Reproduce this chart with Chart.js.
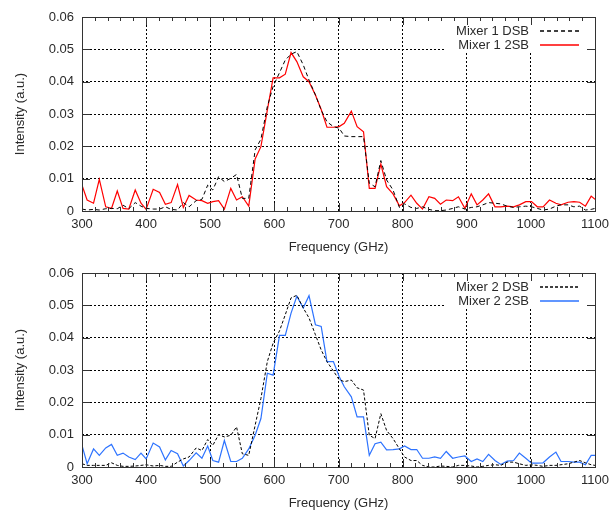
<!DOCTYPE html>
<html>
<head>
<meta charset="utf-8">
<script src="https://cdn.jsdelivr.net/npm/chart.js@4"></script>
<style>
  body { margin: 0; background: #fff; }
  .box { position: absolute; left: 0; width: 615px; height: 256px; }
</style>
</head>
<body>
<div class="box" style="top:0"><canvas id="top" width="615" height="256"></canvas></div>
<div class="box" style="top:256px"><canvas id="bottom" width="615" height="256"></canvas></div>
<script>
// sample frequencies (GHz), shared by all four traces
var freq = [300, 308, 318, 327, 337, 346, 355, 364, 373, 383, 392, 400, 411, 421, 430, 439, 449, 458, 467, 478,
  487, 496, 504, 513, 522, 532, 541, 550, 560, 570, 579, 589, 598, 608, 617, 626, 635, 645, 654, 664,
  673, 682, 692, 701, 709, 720, 729, 739, 748, 757, 766, 775, 785, 795, 803, 813, 822, 831, 841, 850,
  859, 868, 878, 887, 897, 907, 916, 925, 934, 944, 953, 963, 973, 982, 992, 1001, 1010, 1019, 1029, 1039,
  1047, 1058, 1067, 1076, 1085, 1094, 1100];

var mixer1Dsb = [0.0006, 0.0003, 0.0005, 0.0003, 0.0007, 0.0008, 0.0007, 0.0018, 0.0007, 0.0026, 0.0015, 0.0008, 0.0006, 0.0006, 0.0013, 0.0005, 0.0003, 0.0026, 0.0013, 0.0032,
  0.0036, 0.0080, 0.0065, 0.0106, 0.0091, 0.0101, 0.0113, 0.0039, 0.0039, 0.0189, 0.0222, 0.0323, 0.0385, 0.0428, 0.0467, 0.0485, 0.0493, 0.0452, 0.0405, 0.0359,
  0.0312, 0.0276, 0.0261, 0.0256, 0.0232, 0.0230, 0.0230, 0.0230, 0.0086, 0.0075, 0.0156, 0.0096, 0.0065, 0.0011, 0.0022, 0.0011, 0.0008, 0.0013, 0.0005, 0.0001,
  0.0001, 0.0003, 0.0008, 0.0013, 0.0006, 0.0011, 0.0013, 0.0019, 0.0026, 0.0024, 0.0022, 0.0015, 0.0011, 0.0013, 0.0015, 0.0013, 0.0008, 0.0003, 0.0006, 0.0015,
  0.0019, 0.0019, 0.0013, 0.0015, 0.0003, 0.0005, 0.0008];

var mixer1Ssb = [0.0080, 0.0034, 0.0024, 0.0098, 0.0013, 0.0008, 0.0062, 0.0008, 0.0006, 0.0065, 0.0024, 0.0005, 0.0067, 0.0057, 0.0021, 0.0026, 0.0082, 0.0011, 0.0048, 0.0034,
  0.0032, 0.0024, 0.0029, 0.0032, 0.0006, 0.0070, 0.0034, 0.0044, 0.0015, 0.0161, 0.0199, 0.0312, 0.0412, 0.0412, 0.0423, 0.0490, 0.0462, 0.0415, 0.0400, 0.0359,
  0.0314, 0.0259, 0.0259, 0.0261, 0.0271, 0.0309, 0.0261, 0.0245, 0.0070, 0.0070, 0.0145, 0.0075, 0.0053, 0.0016, 0.0026, 0.0049, 0.0024, 0.0006, 0.0044, 0.0039,
  0.0021, 0.0034, 0.0032, 0.0044, 0.0008, 0.0053, 0.0019, 0.0034, 0.0053, 0.0013, 0.0013, 0.0015, 0.0013, 0.0019, 0.0029, 0.0029, 0.0013, 0.0013, 0.0034, 0.0024,
  0.0019, 0.0027, 0.0029, 0.0027, 0.0015, 0.0046, 0.0036];

var mixer2Dsb = [0.0010, 0.0005, 0.0005, 0.0005, 0.0005, 0.0013, 0.0005, 0.0002, 0.0002, 0.0003, 0.0005, 0.0007, 0.0003, 0.0005, 0.0002, 0.0002, 0.0015, 0.0025, 0.0031, 0.0059,
  0.0051, 0.0085, 0.0067, 0.0100, 0.0093, 0.0098, 0.0124, 0.0041, 0.0036, 0.0129, 0.0212, 0.0326, 0.0383, 0.0421, 0.0471, 0.0523, 0.0531, 0.0492, 0.0461, 0.0409,
  0.0362, 0.0326, 0.0297, 0.0270, 0.0264, 0.0269, 0.0245, 0.0238, 0.0098, 0.0088, 0.0165, 0.0113, 0.0088, 0.0056, 0.0031, 0.0020, 0.0020, 0.0005, 0.0000, 0.0000,
  0.0003, 0.0002, 0.0000, 0.0005, 0.0005, 0.0003, 0.0000, 0.0002, 0.0005, 0.0007, 0.0005, 0.0015, 0.0015, 0.0010, 0.0005, 0.0007, 0.0005, 0.0002, 0.0005, 0.0005,
  0.0007, 0.0010, 0.0015, 0.0020, 0.0013, 0.0007, 0.0005];

var mixer2Ssb = [0.0067, 0.0010, 0.0056, 0.0036, 0.0059, 0.0070, 0.0036, 0.0043, 0.0031, 0.0023, 0.0043, 0.0025, 0.0074, 0.0062, 0.0022, 0.0051, 0.0041, 0.0003, 0.0020, 0.0044,
  0.0027, 0.0065, 0.0020, 0.0015, 0.0082, 0.0017, 0.0017, 0.0027, 0.0056, 0.0098, 0.0150, 0.0290, 0.0284, 0.0407, 0.0407, 0.0476, 0.0528, 0.0492, 0.0530, 0.0440,
  0.0435, 0.0326, 0.0326, 0.0280, 0.0248, 0.0217, 0.0155, 0.0155, 0.0036, 0.0072, 0.0077, 0.0053, 0.0054, 0.0056, 0.0065, 0.0054, 0.0054, 0.0027, 0.0027, 0.0031,
  0.0027, 0.0048, 0.0027, 0.0031, 0.0034, 0.0017, 0.0025, 0.0017, 0.0039, 0.0020, 0.0008, 0.0018, 0.0020, 0.0043, 0.0027, 0.0012, 0.0012, 0.0013, 0.0031, 0.0046,
  0.0017, 0.0017, 0.0015, 0.0015, 0.0007, 0.0036, 0.0036];

var xRange = [300, 1100];
var yRange = [0, 0.06];

var FONT = { family: "'Liberation Sans', Arial, sans-serif", size: 13 };
var TEXT = '#2a2a2a';

function pts(vals) {
  return freq.map(function(f, i) { return { x: f, y: vals[i] }; });
}

// frame, inward ticks and a gnuplot-like key in the top right corner
var gnuFrame = {
  id: 'gnuFrame',
  afterDatasetsDraw: function(chart) {
    var ctx = chart.ctx, a = chart.chartArea;
    var xs = chart.scales.x, ys = chart.scales.y;
    var px = function(v) { return Math.round(v) + 0.5; };
    ctx.save();
    // key background hides the grid only
    ctx.fillStyle = '#fff';
    ctx.fillRect(a.right - 150, a.top + 1, 142, 34);

    ctx.strokeStyle = '#333';
    ctx.lineWidth = 1;
    ctx.setLineDash([]);
    ctx.beginPath();
    for (var f = xRange[0]; f <= xRange[1]; f += 20) {
      var x = px(xs.getPixelForValue(f));
      var len = (f % 100 === 0) ? 8 : 4;
      ctx.moveTo(x, a.bottom); ctx.lineTo(x, a.bottom - len);
      ctx.moveTo(x, a.top); ctx.lineTo(x, a.top + len);
    }
    for (var k = 0; k <= 6; k++) {
      var y = px(ys.getPixelForValue(k * 0.01));
      ctx.moveTo(a.left, y); ctx.lineTo(a.left + 8, y);
      ctx.moveTo(a.right, y); ctx.lineTo(a.right - 8, y);
    }
    ctx.stroke();
    ctx.strokeRect(px(a.left), px(a.top), Math.round(a.right - a.left), Math.round(a.bottom - a.top));

    // key
    ctx.font = FONT.size + 'px ' + FONT.family;
    ctx.textAlign = 'right';
    ctx.textBaseline = 'middle';
    chart.data.datasets.forEach(function(ds, i) {
      var o = chart.getDatasetMeta(i).dataset.options;
      var yy = a.top + 14 + i * 14;
      ctx.fillStyle = TEXT;
      ctx.fillText(ds.label, a.right - 66, yy);
      ctx.strokeStyle = o.borderColor;
      ctx.lineWidth = o.borderWidth + 0.3;
      ctx.setLineDash(o.borderDash || []);
      ctx.beginPath();
      ctx.moveTo(a.right - 55, Math.round(yy));
      ctx.lineTo(a.right - 16, Math.round(yy));
      ctx.stroke();
    });
    ctx.restore();
  }
};

function makeChart(id, dsb, ssb, labelDsb, labelSsb, ssbColor, dash) {
  return new Chart(document.getElementById(id), {
    type: 'line',
    data: {
      datasets: [{
        label: labelDsb,
        data: pts(dsb),
        borderColor: '#000',
        borderWidth: 1,
        borderDash: dash,
        pointRadius: 0,
        tension: 0
      }, {
        label: labelSsb,
        data: pts(ssb),
        borderColor: ssbColor,
        borderWidth: 1.2,
        pointRadius: 0,
        tension: 0
      }]
    },
    options: {
      responsive: false,
      animation: false,
      layout: { padding: { top: 17, right: 17, bottom: 0, left: 0 } },
      plugins: { legend: { display: false }, tooltip: { enabled: false } },
      scales: {
        x: {
          type: 'linear',
          min: xRange[0],
          max: xRange[1],
          afterFit: function(s) { s.height = 45; },
          grid: { color: '#000', lineWidth: 1, drawTicks: false },
          border: { display: false, dash: [2, 2] },
          ticks: { stepSize: 100, padding: 6, font: FONT, color: TEXT, maxRotation: 0,
            callback: function(v) { return String(v); } },
          title: { display: true, text: 'Frequency (GHz)', font: FONT, color: TEXT, padding: { top: 0, bottom: 1 } }
        },
        y: {
          min: yRange[0],
          max: yRange[1],
          afterFit: function(s) { s.width = 82; },
          grid: { color: '#000', lineWidth: 1, drawTicks: false },
          border: { display: false, dash: [2, 2] },
          ticks: { stepSize: 0.01, padding: 8, font: FONT, color: TEXT,
            callback: function(v) { return v === 0 ? '0' : v.toFixed(2); } },
          title: { display: true, text: 'Intensity (a.u.)', font: FONT, color: TEXT, padding: { top: 13, bottom: 0 } }
        }
      }
    },
    plugins: [gnuFrame]
  });
}

makeChart('top', mixer1Dsb, mixer1Ssb, 'Mixer 1 DSB', 'Mixer 1 2SB', '#ff0000', [4, 3]);
makeChart('bottom', mixer2Dsb, mixer2Ssb, 'Mixer 2 DSB', 'Mixer 2 2SB', 'rgb(45,115,255)', [3, 2]);
</script>
</body>
</html>
